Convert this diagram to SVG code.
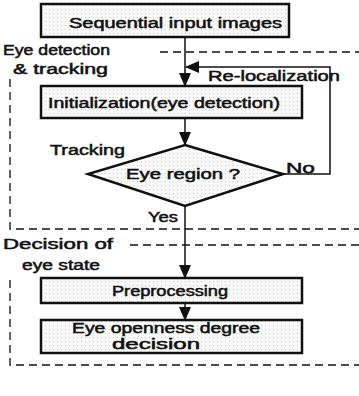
<svg xmlns="http://www.w3.org/2000/svg" width="359" height="396" viewBox="0 0 359 396">
<defs>
<pattern id="dots" width="4" height="4" patternUnits="userSpaceOnUse">
<rect width="4" height="4" fill="#fafafa"/>
<rect x="1" y="1" width="1" height="1" fill="#c8c8c8"/>
</pattern>
<marker id="ah" markerUnits="userSpaceOnUse" markerWidth="14" markerHeight="12" refX="13" refY="6" orient="auto">
<path d="M0,0 L14,6 L0,12 Z" fill="#111"/>
</marker>
</defs>
<style>
.box{fill:url(#dots);stroke:#111;stroke-width:2.5}
.t{font-family:"Liberation Sans",Arial,sans-serif;font-size:14px;fill:#111;stroke:#111;stroke-width:0.5}
.c{fill:none;stroke:#111;stroke-width:1.5}
.d{fill:none;stroke:#111;stroke-width:1.3;stroke-dasharray:8 5}
</style>
<g id="regions">
<path class="d" d="M160,52 H359"/>
<path class="d" d="M10,79 V229 H359"/>
<path class="d" d="M130,245 H359"/>
<path class="d" d="M10,280 V365 H359"/>
</g>
<g id="labels">
<text class="t" x="3" y="55" textLength="107" lengthAdjust="spacingAndGlyphs">Eye detection</text>
<text class="t" x="13" y="74" textLength="95" lengthAdjust="spacingAndGlyphs">&amp; tracking</text>
<text class="t" x="3" y="249" textLength="110" lengthAdjust="spacingAndGlyphs">Decision of</text>
<text class="t" x="22" y="270" textLength="78" lengthAdjust="spacingAndGlyphs">eye state</text>
</g>
<g id="connectors">
<path class="c" d="M185,37 V86" marker-end="url(#ah)"/>
<path class="c" d="M185,118 V145" marker-end="url(#ah)"/>
<path class="c" d="M185,206 V278" marker-end="url(#ah)"/>
<path class="c" d="M185,303 V320" marker-end="url(#ah)"/>
<path class="c" d="M283,174 H330 V67 H186" marker-end="url(#ah)"/>
<text class="t" x="208" y="81" textLength="132" lengthAdjust="spacingAndGlyphs">Re-localization</text>
<text class="t" x="286" y="173" textLength="29" lengthAdjust="spacingAndGlyphs">No</text>
<text class="t" x="148" y="222" textLength="30" lengthAdjust="spacingAndGlyphs">Yes</text>
<text class="t" x="50" y="155" textLength="75" lengthAdjust="spacingAndGlyphs">Tracking</text>
</g>
<g id="n1">
<rect class="box" x="41" y="4" width="248" height="33"/>
<text class="t" x="69" y="28" textLength="213" lengthAdjust="spacingAndGlyphs">Sequential input images</text>
</g>
<g id="n2">
<rect class="box" x="41" y="86" width="261" height="32"/>
<text class="t" x="48" y="108" textLength="232" lengthAdjust="spacingAndGlyphs">Initialization(eye detection)</text>
</g>
<g id="n3">
<polygon class="box" points="185,145 283,174 185,206 88,174"/>
<text class="t" x="126" y="179" textLength="114" lengthAdjust="spacingAndGlyphs">Eye region ?</text>
</g>
<g id="n4">
<rect class="box" x="41" y="278" width="261" height="25"/>
<text class="t" x="112" y="296" textLength="116" lengthAdjust="spacingAndGlyphs">Preprocessing</text>
</g>
<g id="n5">
<rect class="box" x="41" y="320" width="261" height="33"/>
<text class="t" x="72" y="333" textLength="188" lengthAdjust="spacingAndGlyphs">Eye openness degree</text>
<text class="t" x="112" y="349" textLength="88" lengthAdjust="spacingAndGlyphs">decision</text>
</g>
</svg>
